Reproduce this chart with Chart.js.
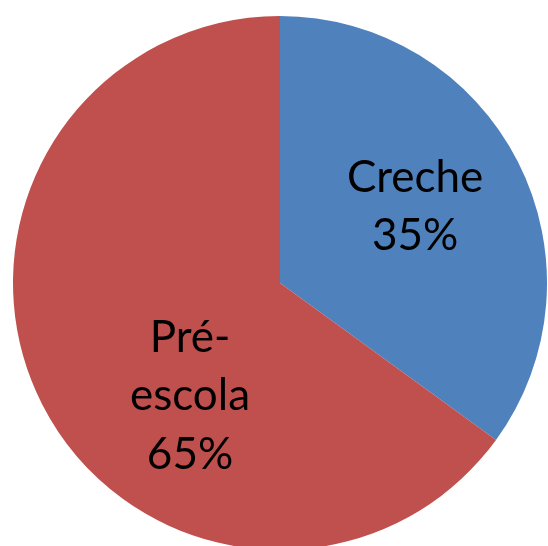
<!DOCTYPE html>
<html>
<head>
<meta charset="utf-8">
<script src="https://cdn.jsdelivr.net/npm/chart.js@4/dist/chart.umd.min.js"></script>
<style>
  html, body { margin: 0; padding: 0; background: #ffffff; }
  #wrap { width: 548px; height: 546px; }
</style>
</head>
<body>
<div id="wrap"><canvas id="c" width="548" height="546"></canvas></div>
<script>
const categories = ['Creche', 'Pré-escola'];
const values = [35, 65];
const labelLines = [['Creche'], ['Pré-', 'escola']];
const colors = ['#4F81BD', '#C0504D'];

const FONT_SIZE = 44;
const LINE_H = 58.5;
const CAP_H = 31.5;
// label block centres relative to pie centre, as fractions of the radius
const labelOffsets = [[0.506, -0.292], [-0.337, 0.418]];

const sliceLabels = {
  id: 'sliceLabels',
  afterDatasetsDraw(chart) {
    const ctx = chart.ctx;
    const meta = chart.getDatasetMeta(0);
    const total = values.reduce((a, b) => a + b, 0);
    ctx.save();
    ctx.font = FONT_SIZE + 'px Lato';
    ctx.fillStyle = '#000000';
    ctx.textAlign = 'center';
    ctx.textBaseline = 'alphabetic';
    meta.data.forEach((arc, i) => {
      const p = arc.getProps(['x', 'y', 'outerRadius'], true);
      const lines = labelLines[i].concat([Math.round(values[i] / total * 100) + '%']);
      const cx = p.x + labelOffsets[i][0] * p.outerRadius;
      const cy = p.y + labelOffsets[i][1] * p.outerRadius;
      let y = cy - (lines.length - 1) * LINE_H / 2 + CAP_H / 2;
      lines.forEach(t => { ctx.fillText(t, cx, y); y += LINE_H; });
    });
    ctx.restore();
  }
};

new Chart(document.getElementById('c'), {
  type: 'pie',
  data: {
    labels: categories,
    datasets: [{
      data: values,
      backgroundColor: colors,
      borderWidth: 0
    }]
  },
  options: {
    responsive: false,
    animation: false,
    radius: 267,
    layout: { padding: { left: 13, right: 1, top: 20, bottom: 0 } },
    plugins: { legend: { display: false }, tooltip: { enabled: false } }
  },
  plugins: [sliceLabels]
});
</script>
</body>
</html>
